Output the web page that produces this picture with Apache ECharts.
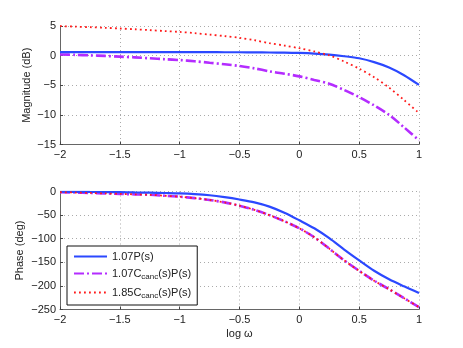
<!DOCTYPE html>
<html><head><meta charset="utf-8">
<script src="https://cdn.jsdelivr.net/npm/echarts@6/dist/echarts.min.js"></script>
<style>html,body{margin:0;padding:0;background:#fff}#c{width:463px;height:348px}</style>
</head><body><div id="c"></div>
<script>
// log ω samples
const logw = [-2,-1.875,-1.75,-1.625,-1.5,-1.375,-1.25,-1.125,-1,-0.875,-0.75,-0.625,-0.5,-0.375,-0.25,-0.125,0,0.125,0.25,0.375,0.5,0.625,0.75,0.875,1];
// Magnitude (dB)
const magP       = [0.59,0.59,0.59,0.59,0.59,0.59,0.59,0.59,0.59,0.58,0.58,0.57,0.57,0.55,0.53,0.5,0.45,0.35,0.17,-0.1,-0.45,-1.1,-2.0,-3.3,-4.95];
const magCanc107 = [0.2,0.13,0.05,-0.05,-0.17,-0.3,-0.45,-0.6,-0.75,-0.95,-1.2,-1.45,-1.75,-2.15,-2.65,-3.05,-3.5,-4.1,-4.75,-5.8,-7.0,-8.4,-10.0,-12.1,-14.3];
const magCanc185 = [4.97,4.9,4.8,4.7,4.58,4.45,4.3,4.15,4.0,3.8,3.55,3.3,3.0,2.6,2.1,1.7,1.25,0.7,0.05,-1.0,-2.2,-3.65,-5.4,-7.5,-9.7];
// Phase (deg)
const phP       = [-0.5,-0.7,-1,-1.2,-1.5,-2,-2.5,-3.2,-4,-5.5,-8,-12,-17,-23,-32,-45,-61,-78,-99,-123,-146,-168,-186,-201,-215];
const phCanc107 = [-1.5,-2.2,-3,-4,-5,-6,-7,-9,-11,-14,-18,-23,-30,-39,-50,-63,-78,-97,-121,-146,-168,-189,-207,-226,-245];
const phCanc185 = [-1.5,-2.2,-3,-4,-5,-6,-7,-9,-11,-14,-18,-23,-30,-39,-50,-63,-78,-97,-121,-146,-168,-189,-207,-226,-245];
const seriesNames = ['1.07P(s)','1.07C{sub|canc}(s)P(s)','1.85C{sub|canc}(s)P(s)'];
const xTicks = {min:-2, max:1, interval:0.5};
const magTicks = {min:-15, max:5, interval:5};
const phTicks = {min:-250, max:0, interval:50};

const pairs = (ys) => logw.map((x,i)=>[x,ys[i]]);
const fmt = v => (v<0 ? '\u2212'+Math.abs(v) : String(v));
const FONT = 'Liberation Sans';
const styles = [
  {color:'#2b48ff', width:2.2, type:'solid'},
  {color:'#b42cff', width:2.6, type:[10,3,2,3]},
  {color:'#ff1a1a', width:1.8, type:[1.8,3.2]}
];
function xAxis(gi, name){
  return {type:'value', gridIndex:gi, min:xTicks.min, max:xTicks.max, interval:xTicks.interval,
    name:name, nameLocation:'middle', nameGap:19, nameMoveOverlap:false,
    nameTextStyle:{fontFamily:FONT,fontSize:11,color:'#222'},
    axisLine:{onZero:false, lineStyle:{color:'#666',width:1}},
    axisTick:{inside:true,length:3,lineStyle:{color:'#444'}},
    axisLabel:{formatter:fmt, fontFamily:FONT, fontSize:11, color:'#222', margin:5},
    splitLine:{show:true, lineStyle:{color:'#aaa', type:[1,3], width:1}}};
}
function yAxis(gi, t, name, gap){
  return {type:'value', gridIndex:gi, min:t.min, max:t.max, interval:t.interval,
    name:name, nameLocation:'middle', nameGap:gap, nameMoveOverlap:false,
    nameTextStyle:{fontFamily:FONT,fontSize:11,color:'#222'},
    axisLine:{show:true, onZero:false, lineStyle:{color:'#666',width:1}},
    axisTick:{show:true, inside:true,length:3,lineStyle:{color:'#444'}},
    axisLabel:{formatter:fmt, fontFamily:FONT, fontSize:11, color:'#222', margin:4},
    splitLine:{show:true, lineStyle:{color:'#aaa', type:[1,3], width:1}}};
}
const series = [];
[[magP,magCanc107,magCanc185],[phP,phCanc107,phCanc185]].forEach((grp,gi)=>{
  grp.forEach((ys,si)=>{
    series.push({type:'line', name:seriesNames[si], xAxisIndex:gi, yAxisIndex:gi, data:pairs(ys),
      smooth:0.3, symbol:'none', z: si===0?3:(si===1?2:4),
      lineStyle:{color:styles[si].color, width:styles[si].width, type:styles[si].type},
      itemStyle:{color:styles[si].color}});
  });
});
const chart = echarts.init(document.getElementById('c'), null, {renderer:'canvas'});
chart.setOption({
  animation:false,
  backgroundColor:'#fff',
  grid:[{left:60,right:44,top:26,height:118.5},{left:60,right:44,top:191.5,height:118}],
  xAxis:[xAxis(0,''), xAxis(1,'log \u03c9')],
  yAxis:[yAxis(0,magTicks,'Magnitude (dB)',28), yAxis(1,phTicks,'Phase (deg)',35)],
  legend:{data:seriesNames, orient:'vertical', left:67, top:246, itemWidth:33, itemHeight:10, itemGap:6,
    padding:[5,6,5,6], backgroundColor:'#fff', borderColor:'#111', borderWidth:1, borderRadius:0,
    itemStyle:{opacity:0},
    textStyle:{fontFamily:FONT, fontSize:11, color:'#222',
      rich:{sub:{fontFamily:FONT, fontSize:8, color:'#222', padding:[7,0,0,0]}}},
    formatter: n => n},
  series:series
});
</script></body></html>
